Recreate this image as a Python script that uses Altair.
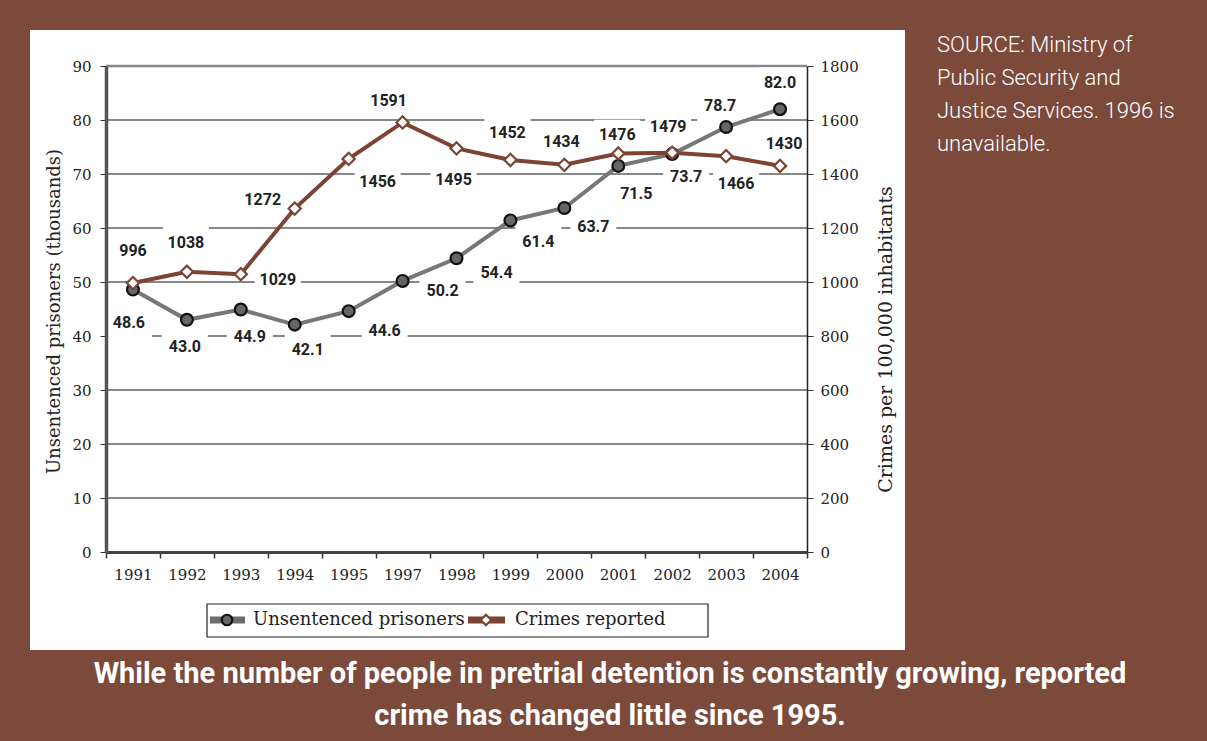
import altair as alt
import pandas as pd

# ---- data ----
years = ["1991", "1992", "1993", "1994", "1995", "1997", "1998",
         "1999", "2000", "2001", "2002", "2003", "2004"]
prisoners = [48.6, 43.0, 44.9, 42.1, 44.6, 50.2, 54.4, 61.4, 63.7, 71.5, 73.7, 78.7, 82.0]
crimes = [996, 1038, 1029, 1272, 1456, 1591, 1495, 1452, 1434, 1476, 1479, 1466, 1430]
grid_values = [10, 20, 30, 40, 50, 60, 70, 80]

# label offsets (pixels) relative to each point
prisoner_dx = [-4, -2, 9, 13, 36, 40, 40, 28, 29, 18, 14, -6, 0]
prisoner_dy = [33, 27, 27, 25, 20, 10, 15, 22, 19, 28, 23, -21, -26]
crime_dx = [0, -1, 37, -32, 29, -14, -3, -3, -3, -1, -4, 10, 4]
crime_dy = [-32, -29, 6, -9, 23, -21, 32, -27, -23, -18, -26, 28, -22]

BROWN_BG = "#7B4A3B"
CRIME = "#7D4433"
PRIS_LINE = "#777777"
PRIS_PT = "#666666"
LABEL_FONT = "Roboto"
SERIF = "DejaVu Serif"

W, H = 701, 486
HALF_BAND = W / len(years) / 2
LMAX, RMAX = 90, 1800

df = pd.DataFrame({
    "Year": years,
    "prisoners": prisoners,
    "crimes": crimes,
    "plabel": [f"{v:.1f}" for v in prisoners],
    "clabel": [str(v) for v in crimes],
    "pdx": prisoner_dx, "pdy": prisoner_dy,
    "cdx": crime_dx, "cdy": crime_dy,
})
grid_df = pd.DataFrame({"v": grid_values})

xenc = alt.X("Year:O", sort=years, bandPosition=0.5,
             scale=alt.Scale(type="band", paddingInner=0, paddingOuter=0),
             axis=alt.Axis(title=None, labelFont=SERIF, labelFontSize=15, labelColor="#222",
                           labelAngle=0, labelPadding=9, tickBand="extent", tickSize=6,
                           tickColor="#333", tickWidth=1.5, domainColor="#444", domainWidth=3,
                           zindex=1))

yleft_scale = alt.Scale(domain=[0, LMAX], nice=False, zero=True)
yright_scale = alt.Scale(domain=[0, RMAX], nice=False, zero=True)

left_axis = alt.Axis(title="Unsentenced prisoners (thousands)", values=list(range(0, 100, 10)),
                     labelFont=SERIF, labelFontSize=15, labelColor="#222", labelPadding=9,
                     tickSize=6, tickColor="#333", domainColor="#555", domainWidth=3.5,
                     grid=False, titleFont=SERIF, titleFontSize=18, titleFontWeight="normal",
                     titleColor="#222", titleX=-52, titleY=245, titleAlign="center",
                     titleBaseline="middle", titleAngle=270, zindex=1)
right_axis = alt.Axis(title="Crimes per 100,000 inhabitants", orient="right",
                      values=list(range(0, 2000, 200)), format="d",
                      labelFont=SERIF, labelFontSize=15, labelColor="#222", labelPadding=7,
                      tickSize=6, tickColor="#333", domainColor="#222", domainWidth=1.5,
                      grid=False, titleFont=SERIF, titleFontSize=19, titleFontWeight="normal",
                      titleColor="#222", titleX=78, titleY=273, titleAlign="center",
                      titleBaseline="middle", titleAngle=270, zindex=1)

BOX = "M-1,-0.68H1V0.68H-1Z"

base = alt.Chart(df).transform_calculate(
    pxo=f"datum.pdx + {HALF_BAND}",
    cxo=f"datum.cdx + {HALF_BAND}",
    py=f"datum.prisoners - datum.pdy * {LMAX} / {H}",
    cy=f"datum.crimes - datum.cdy * {RMAX} / {H}",
)

# white panel behind the plot
one = pd.DataFrame({"k": [0]})
panel = alt.Chart(one).mark_rect(fill="white").encode(
    x=alt.value(-76), x2=alt.value(799), y=alt.value(-36), y2=alt.value(584))

grid = alt.Chart(grid_df).mark_rule(color="#111", strokeWidth=1).encode(
    y=alt.Y("v:Q", scale=yleft_scale, axis=left_axis), x=alt.value(0), x2=alt.value(W))
top_line = alt.Chart(pd.DataFrame({"v": [90]})).mark_rule(color="#888", strokeWidth=2.5).encode(
    y=alt.Y("v:Q", scale=yleft_scale), x=alt.value(0), x2=alt.value(W))

yp = alt.Y("prisoners:Q", scale=yleft_scale, axis=left_axis)
ypl = alt.Y("py:Q", scale=yleft_scale, axis=left_axis)
pbox = base.mark_point(shape=BOX, filled=True, fill="white", opacity=1, strokeWidth=0, size=2116).encode(
    x=xenc, y=ypl, xOffset=alt.XOffset("pxo:Q", scale=None))
pline = base.mark_line(color=PRIS_LINE, strokeWidth=4).encode(x=xenc, y=yp)
ppts = base.mark_point(shape="circle", filled=True, fill=PRIS_PT, stroke="#111", strokeWidth=2.2,
                       opacity=1, size=140).encode(x=xenc, y=yp)
ptext = base.mark_text(font=LABEL_FONT, fontWeight="bold", fontSize=16, color="#222",
                       align="center", baseline="middle").encode(
    x=xenc, y=ypl, text="plabel:N", xOffset=alt.XOffset("pxo:Q", scale=None))

yc = alt.Y("crimes:Q", scale=yright_scale, axis=right_axis)
ycl = alt.Y("cy:Q", scale=yright_scale, axis=right_axis)
cbox = base.mark_point(shape=BOX, filled=True, fill="white", opacity=1, strokeWidth=0, size=2116).encode(
    x=xenc, y=ycl, xOffset=alt.XOffset("cxo:Q", scale=None))
cline = base.mark_line(color=CRIME, strokeWidth=4).encode(x=xenc, y=yc)
cpts = base.mark_point(shape="diamond", filled=True, fill="white", stroke=CRIME, strokeWidth=2.2,
                       opacity=1, size=150).encode(x=xenc, y=yc)
ctext = base.mark_text(font=LABEL_FONT, fontWeight="bold", fontSize=16, color="#222",
                       align="center", baseline="middle").encode(
    x=xenc, y=ycl, text="clabel:N", xOffset=alt.XOffset("cxo:Q", scale=None))

left = alt.layer(grid, top_line, pbox, pline, ppts, ptext)
right = alt.layer(cbox, cline, cpts, ctext)

# legend (drawn)
leg_box = alt.Chart(one).mark_rect(fill="white", stroke="#222", strokeWidth=1.2).encode(
    x=alt.value(101), x2=alt.value(602), y=alt.value(538), y2=alt.value(571))
leg_r1 = alt.Chart(one).mark_rule(color="#6d6d6d", strokeWidth=7).encode(
    x=alt.value(104), x2=alt.value(139), y=alt.value(554))
leg_p1 = alt.Chart(one).mark_point(shape="circle", filled=True, fill=PRIS_PT, stroke="#111",
                                   strokeWidth=2.2, opacity=1, size=110).encode(
    x=alt.value(121), y=alt.value(554))
leg_t1 = alt.Chart(one).mark_text(text="Unsentenced prisoners", font=SERIF, fontSize=18, color="#222",
                                  align="left", baseline="middle").encode(
    x=alt.value(147), y=alt.value(554))
leg_r2 = alt.Chart(one).mark_rule(color=CRIME, strokeWidth=7).encode(
    x=alt.value(362), x2=alt.value(399), y=alt.value(554))
leg_p2 = alt.Chart(one).mark_point(shape="diamond", filled=True, fill="white", stroke=CRIME,
                                   strokeWidth=2.2, opacity=1, size=110).encode(
    x=alt.value(380), y=alt.value(554))
leg_t2 = alt.Chart(one).mark_text(text="Crimes reported", font=SERIF, fontSize=18, color="#222",
                                  align="left", baseline="middle").encode(
    x=alt.value(409), y=alt.value(554))

source = alt.Chart(one).mark_text(
    text=["SOURCE:  Ministry of", "Public Security and", "Justice Services. 1996 is", "unavailable."],
    font=LABEL_FONT, fontWeight=300, fontSize=22, color="white", align="left", baseline="top",
    lineHeight=33).encode(x=alt.value(831), y=alt.value(-31))

caption = alt.Chart(one).mark_text(
    text=["While the number of people in pretrial detention is constantly growing, reported",
          "crime has changed little since 1995."],
    font=LABEL_FONT, fontWeight="bold", fontSize=29, color="white", align="center",
    baseline="alphabetic", lineHeight=42).encode(
    x=alt.value(504), y=alt.value(617))

chart = alt.layer(
    panel, left, right,
    leg_box, leg_r1, leg_p1, leg_t1, leg_r2, leg_p2, leg_t2,
    source, caption,
).resolve_scale(y="independent").properties(
    width=W, height=H,
    background=BROWN_BG,
    padding={"left": 106, "top": 66, "right": 400, "bottom": 189},
    autosize=alt.AutoSizeParams(type="none"),
).configure_view(stroke=None)

chart.save("out.html", embed_options={"renderer": "svg", "actions": False})
